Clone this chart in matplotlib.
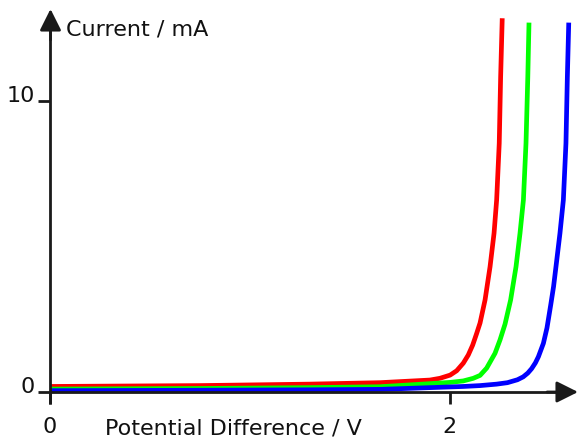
import matplotlib
matplotlib.use("Agg")
import matplotlib.pyplot as plt

# Data (V in volts, I in mA)
red_v = [0.0, 0.751, 1.30, 1.652, 1.902, 1.952, 2.003, 2.036, 2.069, 2.094, 2.116, 2.136, 2.153,
         2.178, 2.203, 2.223, 2.236, 2.249, 2.256, 2.264]
red_i = [0.19, 0.22, 0.27, 0.32, 0.41, 0.47, 0.58, 0.73, 0.99, 1.27, 1.61, 2.01, 2.37,
         3.16, 4.30, 5.45, 6.59, 8.54, 10.82, 12.83]

green_v = [0.0, 0.751, 1.30, 1.652, 2.003, 2.069, 2.119, 2.153, 2.186, 2.228, 2.253, 2.278,
           2.306, 2.333, 2.353, 2.370, 2.383, 2.392, 2.398]
green_i = [0.10, 0.12, 0.15, 0.18, 0.33, 0.38, 0.47, 0.57, 0.82, 1.33, 1.79, 2.33,
           3.16, 4.30, 5.45, 6.59, 8.54, 10.82, 12.68]

blue_v = [0.0, 0.751, 1.30, 1.652, 1.902, 2.069, 2.153, 2.236, 2.290, 2.340, 2.369, 2.392, 2.411,
          2.430, 2.445, 2.470, 2.488, 2.507, 2.521, 2.533, 2.553, 2.570, 2.583, 2.590, 2.597]
blue_i = [0.045, 0.06, 0.075, 0.09, 0.15, 0.19, 0.22, 0.27, 0.32, 0.42, 0.52, 0.65, 0.80,
          1.00, 1.21, 1.67, 2.20, 3.00, 3.62, 4.30, 5.45, 6.59, 8.54, 10.82, 12.68]

series = [(red_v, red_i, "#ff0000"), (green_v, green_i, "#00ff00"), (blue_v, blue_i, "#0000ff")]

x_ticks = [0, 2]
y_ticks = [0, 10]
x_tick_labels = ["0", "2"]
y_tick_labels = ["0", "10"]
x_label = "Potential Difference / V"
y_label = "Current / mA"

W, H = 578, 438
fig = plt.figure(figsize=(W / 100, H / 100), dpi=100)
ax = fig.add_axes([0, 0, 1, 1])

# pixel geometry of the reference
x0_px, x2_px = 50, 449.5
y0_px, y10_px = 392, 100.7
sx = (x2_px - x0_px) / 2.0
sy = (y0_px - y10_px) / 10.0
ax.set_xlim(-x0_px / sx, (W - x0_px) / sx)
ax.set_ylim(-(H - y0_px) / sy, y0_px / sy)
ax.axis("off")

def px2data(px, py):
    return (px - x0_px) / sx, (y0_px - py) / sy

axis_color = "#1a1a1a"
text_color = "#111111"
lw_axis = 2.0
fs = 16

for v, i, c in series:
    ax.plot(v, i, color=c, lw=3.4, solid_capstyle="butt", solid_joinstyle="round", zorder=3)

# axes with arrows
ax.plot([0, 0], [px2data(0, 404)[1], px2data(0, 24)[1]], color=axis_color, lw=lw_axis, zorder=4, solid_capstyle="butt")
ax.plot([0, px2data(562, 0)[0]], [0, 0], color=axis_color, lw=lw_axis, zorder=4, solid_capstyle="butt")
astyle = "-|>,head_length=1.3,head_width=0.65"
ax.annotate("", xy=px2data(50.5, 9), xytext=px2data(50.5, 40),
            arrowprops=dict(arrowstyle=astyle, color=axis_color, lw=lw_axis, shrinkA=0, shrinkB=0), zorder=5)
ax.annotate("", xy=px2data(578, 392), xytext=px2data(547, 392),
            arrowprops=dict(arrowstyle=astyle, color=axis_color, lw=lw_axis, shrinkA=0, shrinkB=0), zorder=5)

# ticks
tick_len_v = px2data(0, 404)[1]
tick_len_h = px2data(38, 0)[0]
for xt, lab in zip(x_ticks, x_tick_labels):
    ax.plot([xt, xt], [0, tick_len_v], color=axis_color, lw=lw_axis, zorder=4, solid_capstyle="butt")
    ax.text(xt, px2data(0, 433)[1], lab, ha="center", va="baseline", fontsize=fs, color=text_color)
for yt, lab in zip(y_ticks, y_tick_labels):
    ax.plot([tick_len_h, 0], [yt, yt], color=axis_color, lw=lw_axis, zorder=4, solid_capstyle="butt")
    ax.text(px2data(35, 0)[0], yt + px2data(0, 393)[1], lab, ha="right", va="baseline", fontsize=fs, color=text_color)

ax.text(*px2data(105, 434), x_label, ha="left", va="baseline", fontsize=fs, color=text_color)
ax.text(*px2data(66, 35), y_label, ha="left", va="baseline", fontsize=fs, color=text_color)

fig.savefig("out.png", dpi=100)
